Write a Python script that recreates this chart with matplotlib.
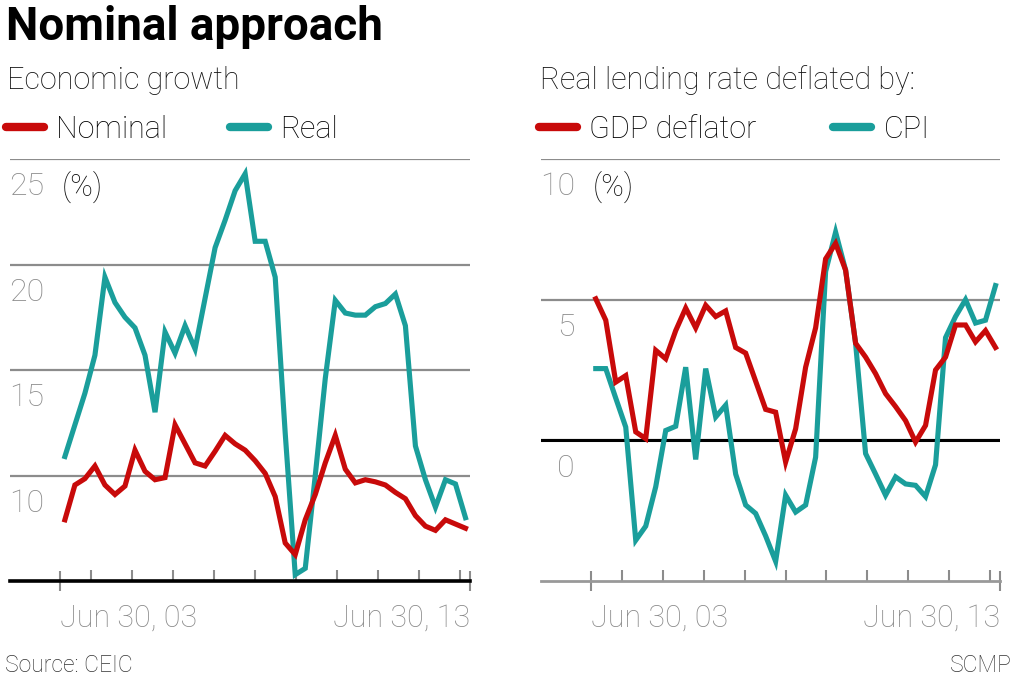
import numpy as np
import matplotlib
matplotlib.use("Agg")
import matplotlib.pyplot as plt
from matplotlib.lines import Line2D

# ---------------- data ----------------
nominal_growth = [7.9, 9.55, 9.85, 10.45, 9.55, 9.1, 9.5, 11.2, 10.2, 9.8, 9.9, 12.4, 11.5, 10.6,
                  10.45, 11.15, 11.9, 11.5, 11.2, 10.7, 10.1, 9.0, 6.8, 6.25, 7.9, 9.1, 10.6, 11.9,
                  10.3, 9.65, 9.8, 9.7, 9.55, 9.2, 8.9, 8.1, 7.6, 7.4, 7.9, 7.7, 7.5]
real_growth = [10.9, 12.4, 13.9, 15.7, 19.4, 18.2, 17.5, 17.0, 15.7, 13.0, 16.8, 15.8, 17.1, 16.0,
               18.4, 20.8, 22.1, 23.5, 24.3, 21.1, 21.1, 19.4, 12.0, 5.3, 5.6, 10.0, 14.6, 18.3,
               17.7, 17.6, 17.6, 18.0, 18.15, 18.6, 17.1, 11.4, 9.8, 8.5, 9.8, 9.6, 8.0]
rate_gdp_deflator = [5.03, 4.27, 2.07, 2.3, 0.3, 0.06, 3.2, 2.9, 3.9, 4.7, 4.0, 4.8, 4.4, 4.6,
                     3.3, 3.1, 2.1, 1.1, 1.0, -0.77, 0.41, 2.6, 4.0, 6.45, 7.0, 6.05, 3.45, 2.96,
                     2.37, 1.66, 1.2, 0.7, -0.06, 0.53, 2.5, 2.96, 4.1, 4.1, 3.5, 3.9, 3.3]
rate_cpi = [2.55, 2.55, 1.5, 0.47, -3.55, -3.05, -1.65, 0.35, 0.5, 2.6, -0.68, 2.55, 0.83, 1.25,
            -1.2, -2.3, -2.6, -3.4, -4.3, -1.95, -2.55, -2.3, -0.6, 6.0, 7.4, 6.05, 3.45, -0.47,
            -1.2, -1.95, -1.3, -1.55, -1.6, -2.0, -0.87, 3.65, 4.4, 5.0, 4.17, 4.27, 5.5]

left_yticks = [10, 15, 20, 25]
right_yticks = [0, 5, 10]
xtick_labels = ["Jun 30, 03", "Jun 30, 13"]

title = "Nominal approach"
left_subtitle = "Economic growth"
right_subtitle = "Real lending rate deflated by:"
left_legend = ["Nominal", "Real"]
right_legend = ["GDP deflator", "CPI"]
source = "Source: CEIC"
credit = "SCMP"

# ---------------- style ----------------
RED = "#c80a0a"
TEAL = "#1a9e9b"
GRID = "#8c8c8c"
TICKLAB = "#8a8a8a"
FONT = "Roboto"
FS = 22

W, H = 1020, 680
fig = plt.figure(figsize=(W / 100, H / 100), dpi=100)

def fx(px):
    return px / W

def fy(py):
    return 1 - py / H

ax_top, ax_bot = 159, 581
axL = fig.add_axes([fx(10), fy(ax_bot), fx(460), (ax_bot - ax_top) / H])
axR = fig.add_axes([fx(541), fy(ax_bot), fx(459), (ax_bot - ax_top) / H])

end_ticks = [-0.45, 40.45]
mid_ticks = [2.6, 6.7, 10.8, 14.9, 19.0, 23.05, 27.15, 31.25, 35.35, 39.45]


def style_axes(ax, ylim, yticks, base_color):
    ax.set_ylim(*ylim)
    ax.set_xlim(-5.48, 40.45)
    for s in ["top", "left", "right"]:
        ax.spines[s].set_visible(False)
    ax.spines["bottom"].set_color(base_color)
    ax.spines["bottom"].set_linewidth(2.6 if base_color == "black" else 2.0)
    ax.set_yticks(yticks)
    ax.tick_params(axis="y", length=0, labelleft=False)
    ax.grid(axis="y", color=GRID, lw=1.6)
    ax.set_axisbelow(True)
    ax.set_xticks(end_ticks)
    ax.set_xticks(mid_ticks, minor=True)
    ax.set_xticklabels(xtick_labels)
    ax.tick_params(axis="x", which="major", direction="inout", length=15, width=1.5,
                   color=GRID, pad=9, labelsize=FS, labelcolor=TICKLAB)
    ax.tick_params(axis="x", which="minor", direction="in", length=8, width=1.5, color=GRID)
    labs = ax.get_xticklabels()
    for lab in labs:
        lab.set_fontfamily(FONT)
        lab.set_fontweight("light")
    labs[0].set_ha("left")
    labs[1].set_ha("right")
    # y labels below gridlines
    for v in yticks:
        ax.annotate(str(v), xy=(0, v), xycoords=("axes fraction", "data"),
                    xytext=(24.5, -20), textcoords="offset points", ha="right", va="center",
                    fontsize=FS + 1, color=TICKLAB, family=FONT, fontweight="light")
    ax.annotate("(%)", xy=(0, ylim[1]), xycoords=("axes fraction", "data"),
                xytext=(37, -20), textcoords="offset points", ha="left", va="center",
                fontsize=FS, color="#111111", family=FONT, fontweight="light")


style_axes(axL, (5, 25), left_yticks, "black")
style_axes(axR, (-5, 10), right_yticks, "#999999")
axR.axhline(0, color="black", lw=2.2, zorder=1.5)

xL = np.arange(len(nominal_growth))
xR = np.arange(len(rate_gdp_deflator))
lw = 3.7
axL.plot(xL, real_growth, color=TEAL, lw=lw, solid_joinstyle="miter", zorder=3)
axL.plot(xL, nominal_growth, color=RED, lw=lw, solid_joinstyle="miter", zorder=4)
axR.plot(xR, rate_cpi, color=TEAL, lw=lw, solid_joinstyle="miter", zorder=3)
axR.plot(xR, rate_gdp_deflator, color=RED, lw=lw, solid_joinstyle="miter", zorder=4)

for a in (axL, axR):
    a.patch.set_visible(False)

# ---------------- texts ----------------
fig.text(fx(6), fy(40), title, fontsize=33, fontweight="bold", family=FONT,
         va="baseline", ha="left", color="black")
fig.text(fx(7), fy(89), left_subtitle, fontsize=FS, fontweight="light", family=FONT,
         va="baseline", ha="left", color="#111111")
fig.text(fx(540), fy(89), right_subtitle, fontsize=FS, fontweight="light", family=FONT,
         va="baseline", ha="left", color="#111111")

def legend_item(x_px, label, color):
    handle = Line2D([0], [0], color=color, lw=6, solid_capstyle="round")
    leg = fig.legend([handle], [label], loc="center left", bbox_to_anchor=(fx(x_px), fy(129)),
                     frameon=False, borderaxespad=0, borderpad=0, handlelength=1.25,
                     handletextpad=0.4,
                     prop={"family": FONT, "weight": "light", "size": FS})
    return leg

legend_item(6, left_legend[0], RED)
legend_item(230, left_legend[1], TEAL)
legend_item(539, right_legend[0], RED)
legend_item(833, right_legend[1], TEAL)

fig.text(fx(5), fy(672), source, fontsize=16.5, fontweight="light", family=FONT,
         va="baseline", ha="left", color="#333333")
fig.text(fx(1012), fy(672), credit, fontsize=16.5, fontweight="light", family=FONT,
         va="baseline", ha="right", color="#333333")

fig.savefig("out.png", dpi=100)
